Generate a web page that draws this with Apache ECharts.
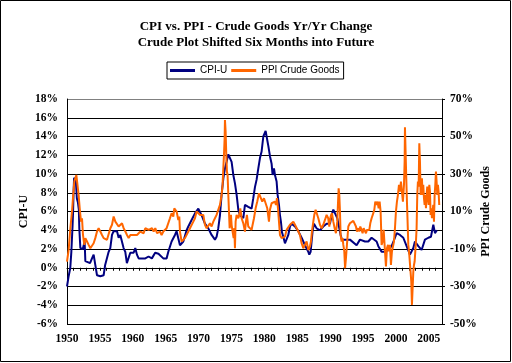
<!DOCTYPE html>
<html>
<head>
<meta charset="utf-8">
<script src="https://cdn.jsdelivr.net/npm/echarts@6/dist/echarts.min.js"></script>
<style>html,body{margin:0;padding:0;background:#fff}#c{width:512px;height:363px}</style>
</head>
<body>
<div id="c"></div>
<script>
// ---- Data ----
const titleLines = ['CPI vs. PPI - Crude Goods Yr/Yr Change', 'Crude Plot Shifted Six Months into Future'];
const seriesNames = ['CPI-U', 'PPI Crude Goods'];
const xTickYears = [1950, 1955, 1960, 1965, 1970, 1975, 1980, 1985, 1990, 1995, 2000, 2005];

const cpiDates = [1950.00,1950.25,1950.5,1950.66,1950.76,1950.84,1950.92,1951.0,1951.08,1951.2,1951.35,1951.5,1951.65,1951.8,1951.87,
1952.03,1952.2,1952.4,1952.68,1952.79,1953.0,1953.5,1953.8,1954.05,1954.3,1954.56,1955.07,1955.57,1955.8,1956.08,1956.33,1956.58,1956.84,
1957.09,1957.6,1957.85,1958.1,1958.35,1958.6,1958.86,1959.1,1959.37,1959.62,1960.13,1960.38,1960.63,1960.89,1961.4,1961.9,1962.4,1962.9,
1963.4,1963.9,1964.13,1964.64,1965.14,1965.4,1965.9,1966.41,1966.66,1967.17,1967.68,1968.18,1968.44,1968.94,1969.45,1969.96,1970.46,
1970.97,1971.48,1971.98,1972.49,1972.74,1972.99,1973.25,1973.5,1973.76,1974.01,1974.26,1974.52,1974.77,1975.02,1975.28,1975.53,1975.78,
1976.04,1976.29,1976.8,1977.05,1977.55,1978.06,1978.31,1978.57,1978.82,1979.08,1979.33,1979.58,1979.84,1980.19,1980.34,1980.6,1980.85,
1981.1,1981.25,1981.46,1981.61,1981.86,1982.01,1982.22,1982.37,1982.52,1982.67,1982.88,1983.13,1983.38,1983.64,1983.89,1984.14,1984.65,
1985.16,1985.66,1986.17,1986.68,1986.83,1987.03,1987.33,1987.54,1987.94,1988.45,1988.95,1989.46,1989.97,1990.22,1990.48,1990.73,1991.08,
1991.39,1991.59,1991.79,1992.25,1993.01,1994.02,1994.53,1995.29,1995.8,1996.3,1996.56,1997.06,1997.32,1997.82,1998.33,1998.84,1999.34,
1999.85,2000.1,2000.61,2001.12,2001.62,2002.13,2002.64,2002.89,2003.4,2003.9,2004.41,2004.92,2005.32,2005.68,2005.93,2006.23];
const cpiValues = [-2.0,-0.9,0.0,1.7,3.2,4.4,5.9,8.1,9.6,9.6,9.2,7.4,7.0,6.2,4.2,
2.1,1.9,2.0,2.8,0.7,0.5,0.5,1.0,1.4,0.3,-0.8,-0.9,-0.8,0.3,0.3,1.7,2.1,3.5,
3.9,3.9,3.2,3.5,2.8,2.1,1.7,0.5,0.5,1.6,1.6,2.1,1.4,1.0,1.0,1.0,1.2,1.0,
1.6,1.5,1.6,1.0,1.0,1.7,2.8,3.5,3.9,2.4,2.8,4.0,4.4,5.1,5.8,6.3,5.6,
4.7,4.2,3.5,3.0,3.3,4.2,5.6,7.8,9.5,10.6,11.3,12.1,12.0,11.3,9.9,9.0,7.8,
6.2,5.6,5.3,6.7,6.5,6.3,7.4,8.6,9.4,10.6,11.7,12.4,14.0,14.6,14.0,13.0,11.9,
11.1,9.9,10.6,9.9,9.2,7.8,6.7,5.6,4.9,3.8,3.3,2.6,2.4,3.5,4.4,4.7,4.4,
3.9,3.2,2.4,1.7,1.4,1.7,3.9,4.7,4.2,4.0,4.4,4.7,4.7,5.6,6.2,6.3,5.3,
4.2,3.5,3.0,3.0,3.0,2.4,3.0,2.8,2.8,3.2,3.3,2.8,2.3,1.7,1.7,1.9,2.3,
3.2,3.7,3.5,3.2,2.3,1.4,2.1,2.8,2.3,1.9,3.0,3.2,3.3,4.6,3.7,4.0];

const ppiDates = [1950.0,1950.25,1950.51,1950.76,1950.91,1951.11,1951.42,1951.62,1951.77,1951.93,1952.13,1952.28,1952.43,1952.63,1952.79,
1953.04,1953.29,1953.55,1953.8,1954.05,1954.3,1954.56,1954.81,1955.07,1955.32,1955.57,1955.83,1956.08,1956.33,1956.59,1956.84,1957.09,
1957.35,1957.6,1957.85,1958.11,1958.36,1958.61,1958.87,1959.12,1959.37,1959.63,1959.88,1960.13,1960.64,1961.15,1961.4,1961.65,1961.9,
1962.16,1962.41,1962.66,1962.92,1963.17,1963.42,1963.68,1963.93,1964.13,1964.38,1964.64,1964.89,1965.14,1965.4,1965.65,1965.9,1966.16,
1966.31,1966.51,1966.66,1966.92,1967.07,1967.17,1967.42,1967.68,1967.93,1968.18,1968.44,1968.69,1968.94,1969.2,1969.45,1969.7,1969.96,
1970.21,1970.46,1970.72,1970.97,1971.22,1971.48,1971.73,1971.98,1972.24,1972.49,1972.74,1972.99,1973.25,1973.5,1973.65,1973.76,1973.86,
1973.96,1974.01,1974.11,1974.21,1974.31,1974.41,1974.52,1974.62,1974.72,1974.82,1974.92,1975.02,1975.17,1975.33,1975.43,1975.53,1975.63,
1975.78,1976.04,1976.19,1976.34,1976.54,1976.8,1977.05,1977.2,1977.35,1977.55,1977.81,1978.06,1978.16,1978.42,1978.67,1978.92,1979.18,
1979.43,1979.68,1979.94,1980.19,1980.44,1980.7,1980.85,1981.1,1981.36,1981.61,1981.76,1981.91,1982.07,1982.22,1982.37,1982.62,1982.88,
1983.13,1983.38,1983.64,1983.89,1984.14,1984.4,1984.65,1984.9,1985.16,1985.41,1985.66,1985.92,1986.17,1986.42,1986.68,1986.93,1987.08,
1987.23,1987.44,1987.59,1987.79,1987.94,1988.2,1988.45,1988.7,1988.95,1989.21,1989.46,1989.71,1989.87,1990.07,1990.27,1990.48,1990.68,
1990.88,1991.08,1991.18,1991.29,1991.39,1991.49,1991.59,1991.74,1991.89,1992.0,1992.15,1992.27,1992.4,1992.55,1992.76,1993.01,1993.26,
1993.52,1993.77,1993.92,1994.07,1994.28,1994.43,1994.58,1994.78,1994.93,1995.09,1995.29,1995.44,1995.59,1995.8,1995.95,1996.1,1996.3,
1996.56,1996.71,1996.86,1997.06,1997.21,1997.37,1997.52,1997.67,1997.82,1997.97,1998.13,1998.28,1998.38,1998.48,1998.63,1998.79,1998.94,
1999.09,1999.24,1999.39,1999.55,1999.7,1999.85,2000.0,2000.15,2000.3,2000.46,2000.61,2000.76,2000.91,2001.06,2001.22,2001.32,2001.37,
2001.47,2001.57,2001.67,2001.77,2001.88,2002.03,2002.18,2002.33,2002.43,2002.53,2002.64,2002.74,2002.84,2002.94,2003.04,2003.14,2003.24,
2003.34,2003.45,2003.55,2003.65,2003.75,2003.85,2003.95,2004.05,2004.15,2004.26,2004.36,2004.46,2004.56,2004.66,2004.76,2004.86,2004.97,
2005.07,2005.17,2005.27,2005.37,2005.47,2005.57,2005.67,2005.78,2005.88,2005.98,2006.08,2006.18,2006.28,2006.38,2006.48,2006.58];
const ppiValues = [-16.7,-10.5,1.1,10.0,17.1,26.0,29.5,28.6,18.8,11.7,4.6,6.4,-2.5,-7.8,-4.2,
-6.0,-7.8,-9.6,-8.7,-6.9,-4.2,-0.7,1.1,-0.7,-2.5,-4.2,-3.4,-5.1,-4.2,1.1,2.9,7.3,
4.6,4.6,2.0,2.9,3.7,1.1,-0.7,-2.5,-4.2,-2.5,-3.4,-2.5,-2.5,-0.7,0.2,-1.6,1.1,
2.0,0.2,0.2,1.1,-0.7,1.1,-1.6,-0.7,-0.7,-2.5,-0.7,0.2,1.1,2.0,6.4,9.1,7.3,
11.7,12.6,10.0,5.5,7.3,-0.7,-6.0,-6.9,-4.2,-3.4,-0.7,1.1,2.0,4.6,6.4,10.0,9.1,
8.2,7.3,8.2,2.9,1.1,0.2,3.7,2.0,4.6,6.4,8.2,10.9,13.5,18.8,24.2,33.1,40.2,
49.0,58.8,52.6,40.2,31.3,29.5,18.8,10.0,1.1,2.9,8.2,2.9,-0.7,-4.2,1.1,-9.6,4.6,
8.2,6.4,8.2,11.7,6.4,3.7,-0.7,4.6,8.2,2.0,1.1,0.2,2.0,6.4,11.7,15.3,19.7,
18.8,15.3,17.1,14.4,11.7,4.6,10.9,14.4,13.5,15.3,13.5,17.1,11.7,4.6,-2.5,-4.2,-4.2,
-3.4,0.2,-0.7,2.9,3.7,4.6,2.9,2.0,-0.7,-2.5,-6.9,-9.6,-7.8,-6.0,-10.5,-8.7,-6.0,
-0.7,4.6,8.2,10.9,10.0,6.4,2.9,1.1,2.9,5.5,8.2,6.4,2.0,7.3,9.1,4.6,1.1,
-1.6,4.6,13.5,22.4,18.8,10.0,-2.5,-6.0,-4.2,-7.8,-11.3,-20.2,-14.9,-7.8,2.0,3.7,4.6,
5.0,5.5,2.0,-0.7,1.1,-0.7,2.0,0.2,-1.6,1.1,0.2,-1.6,0.2,1.1,0.2,3.7,6.4,
9.1,10.9,15.3,13.5,15.3,11.7,15.3,10.0,-7.8,-6.0,0.2,1.1,-0.7,-19.3,-9.6,-7.8,-11.3,
-7.8,-18.5,-11.3,-11.3,-6.0,1.1,10.0,15.3,18.8,24.2,20.6,26.0,20.6,15.3,24.2,36.6,54.9,
54.4,27.7,15.3,4.6,-7.8,-13.1,-20.2,-27.3,-39.8,-38.9,-22.0,-18.5,-16.7,-11.3,-6.0,1.1,18.8,
26.0,23.3,46.4,36.6,18.8,24.2,27.7,18.8,24.2,17.1,13.5,18.8,11.7,18.8,23.3,17.1,13.5,
24.2,20.6,8.2,11.7,6.4,10.0,13.5,4.6,18.8,24.2,31.3,26.0,18.8,24.2,20.6,13.5];

const cpiTicks = [-6, 18, 2];   // min, max, step (%)
const ppiTicks = [-50, 70, 20]; // min, max, step (%)
const xRange = [1950, 2007];

// ---- Chart ----
const serif = 'Liberation Serif, Times New Roman, serif';
const sans = 'Liberation Sans, Arial, sans-serif';
const chart = echarts.init(document.getElementById('c'), null, {renderer: 'canvas'});
const nGrid = (cpiTicks[1] - cpiTicks[0]) / cpiTicks[2] + 1;
const gridColors = [];
for (let i = 0; i < nGrid; i++) gridColors.push(i === nGrid - 1 ? '#808080' : '#000000');

chart.setOption({
  animation: false,
  backgroundColor: '#ffffff',
  title: {
    text: titleLines.join('\n'),
    left: 'center', top: 18, padding: 0,
    textStyle: {fontFamily: serif, fontWeight: 'bold', fontSize: 13, lineHeight: 16.5, color: '#000'}
  },
  legend: {
    data: seriesNames,
    left: 167, top: 62,
    orient: 'horizontal',
    padding: [2, 4, 2, 3],
    itemGap: 4, itemWidth: 25, itemHeight: 3,
    icon: 'rect',
    borderColor: '#000', borderWidth: 1,
    textStyle: {fontFamily: sans, fontSize: 10, color: '#000', lineHeight: 13}
  },
  grid: {left: 67, top: 99, width: 375, height: 225, containLabel: false},
  xAxis: {
    type: 'value', min: xRange[0], max: xRange[1], interval: 1,
    axisLine: {show: true, lineStyle: {color: '#000', width: 1}},
    axisTick: {show: true, length: 3, lineStyle: {color: '#000'}},
    splitLine: {show: false},
    axisLabel: {
      margin: 9,
      fontFamily: serif, fontWeight: 'bold', fontSize: 11.5, color: '#000',
      formatter: v => xTickYears.indexOf(v) >= 0 ? String(v) : ''
    }
  },
  yAxis: [
    {
      type: 'value', position: 'left',
      min: cpiTicks[0], max: cpiTicks[1], interval: cpiTicks[2],
      name: seriesNames[0], nameLocation: 'middle', nameRotate: 90, nameGap: 37, nameMoveOverlap: false,
      nameTextStyle: {fontFamily: serif, fontWeight: 'bold', fontSize: 12, color: '#000'},
      axisLine: {show: true, lineStyle: {color: '#000', width: 1}},
      axisTick: {show: false},
      splitLine: {show: true, lineStyle: {color: gridColors, width: 1}},
      axisLabel: {margin: 9, fontFamily: serif, fontWeight: 'bold', fontSize: 11.5, color: '#000', formatter: '{value}%'}
    },
    {
      type: 'value', position: 'right',
      min: ppiTicks[0], max: ppiTicks[1], interval: ppiTicks[2],
      name: seriesNames[1], nameLocation: 'middle', nameRotate: 90, nameGap: 38, nameMoveOverlap: false,
      nameTextStyle: {fontFamily: serif, fontWeight: 'bold', fontSize: 12, color: '#000'},
      axisLine: {show: true, lineStyle: {color: '#000', width: 1}},
      axisTick: {show: true, length: 3, lineStyle: {color: '#000'}},
      splitLine: {show: false},
      axisLabel: {margin: 8, fontFamily: serif, fontWeight: 'bold', fontSize: 11.5, color: '#000', formatter: '{value}%'}
    }
  ],
  graphic: [{
    type: 'rect', shape: {x: 0.5, y: 0.5, width: 510, height: 361},
    style: {fill: 'none', stroke: '#000', lineWidth: 1}, silent: true, z: 100
  }],
  series: [
    {
      name: seriesNames[0], type: 'line', yAxisIndex: 0, symbol: 'none', z: 2,
      color: '#000080', lineStyle: {width: 2, color: '#000080'},
      data: cpiDates.map((d, i) => [d, cpiValues[i]])
    },
    {
      name: seriesNames[1], type: 'line', yAxisIndex: 1, symbol: 'none', z: 3,
      color: '#FF6600', lineStyle: {width: 2, color: '#FF6600'},
      data: ppiDates.map((d, i) => [d, ppiValues[i]])
    }
  ]
});
</script>
</body>
</html>
